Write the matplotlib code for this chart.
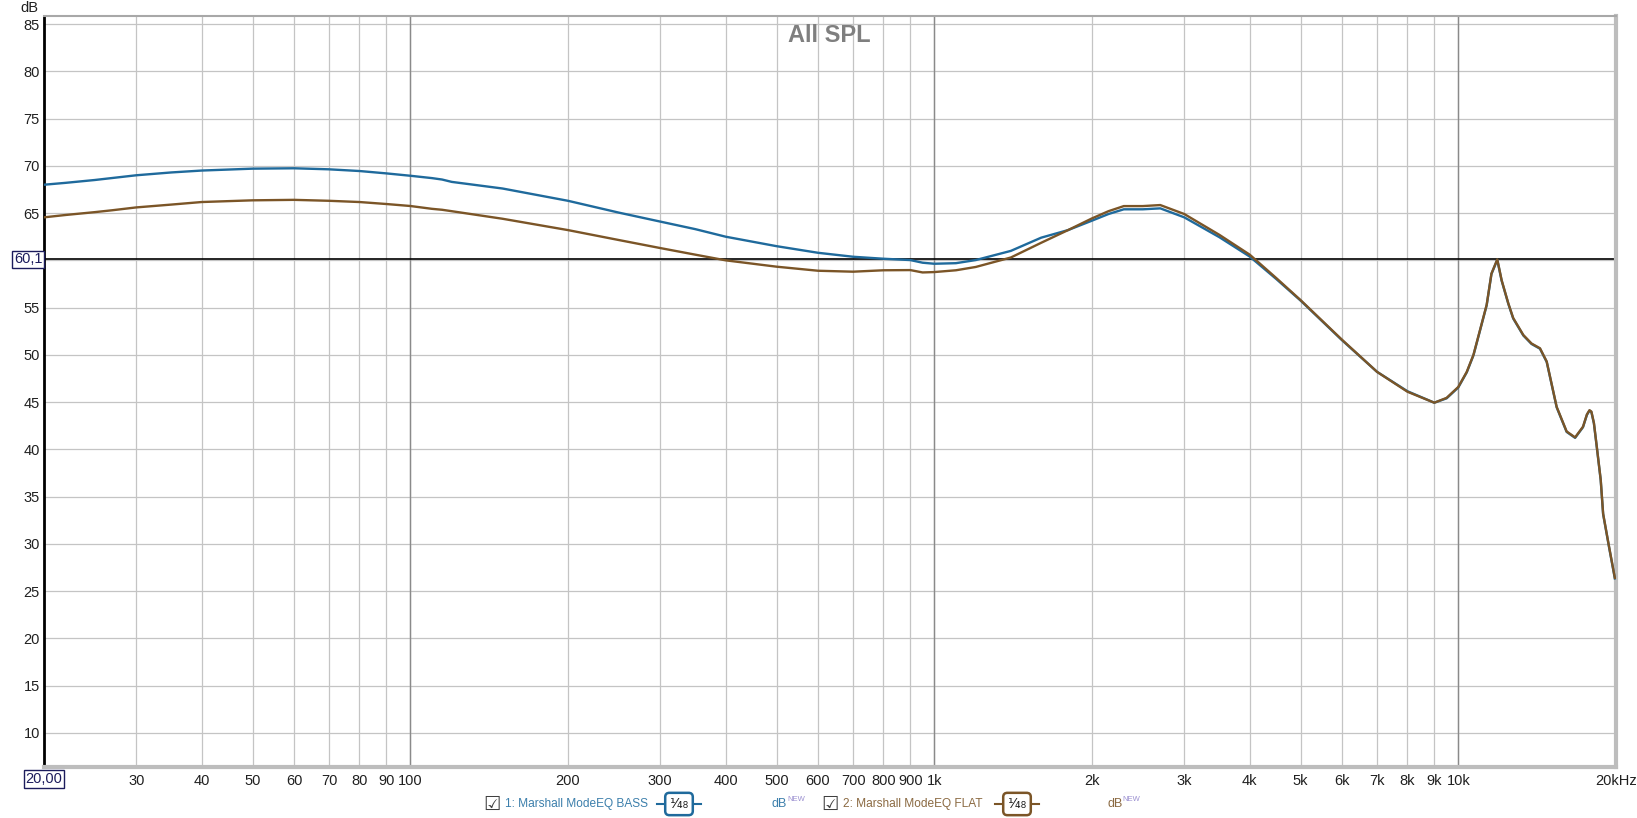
import numpy as np
import matplotlib.pyplot as plt
from matplotlib.lines import Line2D
from matplotlib.ticker import NullLocator
import matplotlib.transforms as mtransforms

plt.rcParams['font.family'] = ['Liberation Sans', 'DejaVu Sans']

freq_bass = [20, 22, 25, 30, 35, 40, 50, 60, 70, 80, 90, 100, 110, 115, 120, 150,
             200, 250, 300, 350, 400, 500, 600, 700, 800, 900, 950, 1000, 1100, 1200,
             1400, 1600, 1800, 2000, 2150, 2300, 2500, 2700, 3000, 3500, 4000, 4500,
             5000, 6000, 7000, 8000, 9000]
spl_bass = [68.0, 68.2, 68.5, 69.0, 69.3, 69.5, 69.7, 69.74, 69.63, 69.45, 69.2, 68.95,
            68.7, 68.55, 68.3, 67.6, 66.3, 65.05, 64.1, 63.3, 62.5, 61.5, 60.8, 60.38,
            60.17, 60.03, 59.75, 59.64, 59.7, 60.03, 61.0, 62.4, 63.2, 64.2, 64.9,
            65.4, 65.4, 65.5, 64.55, 62.45, 60.4, 58.0, 55.75, 51.55, 48.2, 46.15, 44.94]

freq_flat = [20, 22, 25, 27, 30, 35, 40, 50, 60, 70, 80, 90, 100, 110, 115, 120, 150,
             200, 250, 300, 350, 400, 500, 600, 700, 800, 900, 950, 1000, 1100, 1200,
             1400, 1600, 1800, 2000, 2150, 2300, 2500, 2700, 3000, 3500, 4000, 4500,
             5000, 6000, 7000, 8000, 9000]
spl_flat = [64.55, 64.8, 65.1, 65.3, 65.6, 65.9, 66.17, 66.35, 66.4, 66.3, 66.17, 65.96,
            65.75, 65.45, 65.35, 65.2, 64.4, 63.2, 62.15, 61.3, 60.6, 60.0, 59.33, 58.9,
            58.8, 58.95, 58.97, 58.72, 58.76, 58.95, 59.3, 60.3, 61.86, 63.2, 64.44,
            65.2, 65.74, 65.74, 65.85, 64.9, 62.7, 60.6, 58.1, 55.8, 51.6, 48.2, 46.1, 44.94]

# above 9 kHz both curves overlap
freq_top = [9500, 10000, 10380, 10690, 11000, 11330, 11570, 11870, 12100, 12460, 12730,
            13310, 13800, 14320, 14750, 15410, 16100, 16710, 17300, 17600, 17800, 17950,
            18150, 18380, 18700, 18900, 19400, 19900]
spl_top = [45.45, 46.6, 48.2, 50.0, 52.6, 55.3, 58.6, 60.1, 57.9, 55.45, 53.9, 52.1,
           51.2, 50.7, 49.3, 44.5, 41.9, 41.27, 42.4, 43.7, 44.15, 44.0, 42.8, 40.3,
           36.8, 33.2, 29.7, 26.4]

x_ticks = [30, 40, 50, 60, 70, 80, 90, 100, 200, 300, 400, 500, 600, 700, 800, 900,
           1000, 2000, 3000, 4000, 5000, 6000, 7000, 8000, 9000, 10000, 20000]
x_labels = ['30', '40', '50', '60', '70', '80', '90', '100', '200', '300', '400', '500',
            '600', '700', '800', '900', '1k', '2k', '3k', '4k', '5k', '6k', '7k', '8k',
            '9k', '10k', '20kHz']
y_ticks = list(range(10, 90, 5))
y_labels = ['' if v == 60 else str(v) for v in y_ticks]

ref_level = 60.1
blue = '#1f6a9c'
brown = '#7b5527'

W, H = 1637, 818
fig = plt.figure(figsize=(W / 100, H / 100), dpi=100)
ax = fig.add_axes([44 / W, 1 - 767 / H, (1616 - 44) / W, (767 - 16) / H])

ax.set_xscale('log')
ax.set_xlim(20, 20000)
ax.set_ylim(6.4, 85.85)
ax.set_xticks(x_ticks, x_labels)
ax.xaxis.set_minor_locator(NullLocator())
ax.set_yticks(y_ticks, y_labels)
ax.tick_params(axis='both', length=0, labelsize=10.5, colors='#202020')
ax.tick_params(axis='x', pad=5)
ax.tick_params(axis='y', pad=3)

ax.grid(True, color='#c4c4c4', linewidth=0.9)
for f in [100, 1000, 10000]:
    ax.axvline(f, color='#8a8a8a', linewidth=1.0, zorder=1)
ax.set_axisbelow(True)

ax.spines['left'].set_color('black')
ax.spines['left'].set_linewidth(2)
ax.spines['top'].set_color('#a8a8a8')
ax.spines['top'].set_linewidth(1.5)
for s in ['right', 'bottom']:
    ax.spines[s].set_color('#bdbdbd')
    ax.spines[s].set_linewidth(3)

ax.axhline(ref_level, color='black', linewidth=1.2, zorder=2)

ax.plot(freq_bass + freq_top, spl_bass + [v - 0.05 for v in spl_top],
        color=blue, linewidth=1.7, zorder=3)
ax.plot(freq_flat + freq_top, spl_flat + spl_top, color=brown, linewidth=1.7, zorder=4)

# boxed cursor readouts
box = dict(boxstyle='square,pad=0.12', fc='white', ec='#1c1c5c', lw=1)
trans = mtransforms.blended_transform_factory(ax.transAxes, ax.transData)
ax.text(-0.001, ref_level, '60,1', transform=trans, ha='right', va='center',
        fontsize=10.5, color='#1c1c5c', bbox=box, zorder=6, clip_on=False)
fig.text(44 / W, 1 - 779 / H, '20,00', ha='center', va='center', fontsize=10.5,
         color='#1c1c5c', bbox=box)

fig.text(38 / W, 1 - 8 / H, 'dB', ha='right', va='center', fontsize=10.5, color='#202020')
fig.text(829 / W, 1 - 35 / H, 'All SPL', ha='center', va='center', fontsize=17,
         fontweight='bold', color='#7f7f7f')

# legend row
ly = 1 - 804 / H
items = [(492, '1: Marshall ModeEQ BASS', '#3c7fab', blue, 679, 772),
         (830, '2: Marshall ModeEQ FLAT', '#8b6a42', brown, 1017, 1107)]
for cx, label, tcol, lcol, bx, dx in items:
    fig.text(cx / W, ly, '\u2611', ha='center', va='center', fontsize=14,
             color='#404040', family='DejaVu Sans')
    fig.text((cx + 13) / W, ly, label, ha='left', va='center', fontsize=8.6, color=tcol)
    fig.add_artist(Line2D([(bx - 22) / W, (bx + 22) / W], [ly, ly], color=lcol,
                          linewidth=1.5, zorder=1))
    fig.text(bx / W, ly, '\u00b9\u2044\u2084\u2088', ha='center', va='center', fontsize=10,
             color='#202020', family='DejaVu Sans', zorder=3,
             bbox=dict(boxstyle='round,pad=0.3', fc='white', ec=lcol, lw=1.8))
    fig.text(dx / W, ly, 'dB', ha='left', va='center', fontsize=9, color=tcol)
    fig.text((dx + 15) / W, ly + 0.005, 'NEW', ha='left', va='center', fontsize=5.5,
             color='#9a8fd0')

fig.savefig('out.png', dpi=100, facecolor='white')
